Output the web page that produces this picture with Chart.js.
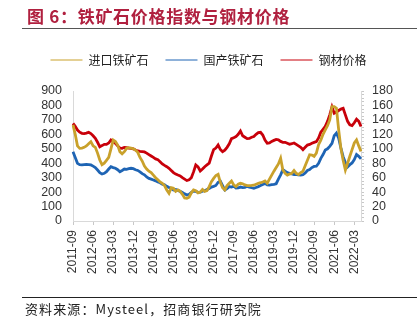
<!DOCTYPE html>
<html>
<head>
<meta charset="utf-8">
<script src="https://cdn.jsdelivr.net/npm/chart.js@4.4.1/dist/chart.umd.min.js"></script>
<style>
  html, body { margin: 0; padding: 0; background: #fff; width: 417px; height: 323px; overflow: hidden; }
  #wrap { position: relative; width: 417px; height: 323px; }
  #chart { position: absolute; left: 0; top: 0; }
  .title { position: absolute; left: 27px; top: 3px; font: bold 17px "Noto Sans CJK SC", sans-serif; color: #b0203f; white-space: nowrap; letter-spacing: 0.7px; }
  .rule { position: absolute; left: 22px; right: 0; height: 0; }
  .rule.top { top: 28px; border-top: 1.5px solid #555; }
  .rule.bottom { top: 297px; border-top: 1px solid #222; }
  .source { position: absolute; left: 25px; top: 299px; font: 13px "Noto Sans CJK SC", sans-serif; color: #222; white-space: nowrap; letter-spacing: 1.1px; }
</style>
</head>
<body>
<div id="wrap">
  <canvas id="chart" width="417" height="323"></canvas>
  <div class="title">图 6：铁矿石价格指数与钢材价格</div>
  <div class="rule top"></div>
  <div class="rule bottom"></div>
  <div class="source">资料来源：Mysteel，招商银行研究院</div>
</div>
<script>
// Monthly categories, 2011-09 through 2022-06
const months = [];
for (let i = 0; i < 130; i++) {
  const y = 2011 + Math.floor((8 + i) / 12);
  const mo = (8 + i) % 12 + 1;
  months.push(y + '-' + String(mo).padStart(2, '0'));
}

// Imported iron ore price index (left axis)
const importedOre = [
  665,600,520,503,505,510,520,535,549,520,
  510,470,422,390,400,420,440,500,561,550,
  526,480,465,480,503,507,505,500,491,475,
  440,415,380,360,345,335,318,300,285,270,
  261,245,215,192,230,226,205,215,205,185,
  160,157,165,195,215,210,195,200,218,205,
  210,238,272,295,315,323,268,230,215,245,
  261,277,250,238,255,261,258,250,245,245,
  246,248,255,261,265,270,277,262,290,318,
  345,370,395,434,353,330,318,325,330,350,
  330,321,335,344,383,420,459,457,448,470,
  528,560,600,631,660,700,792,792,780,631,
  503,420,353,400,448,494,540,561,520,482
];

// Domestic iron ore price index (left axis)
const domesticOre = [
  480,440,399,390,388,390,392,391,388,380,
  370,353,335,325,330,341,360,376,370,365,
  355,341,350,360,358,362,365,362,355,350,
  340,328,320,305,295,290,284,278,270,265,
  255,250,240,232,225,215,218,212,205,198,
  188,180,185,198,207,205,198,200,207,210,
  218,225,235,240,246,268,276,245,215,225,
  238,235,241,228,230,235,231,233,240,235,
  230,226,232,238,245,253,260,250,249,252,
  253,258,290,320,356,345,335,330,326,322,
  321,320,318,320,333,350,356,370,378,379,
  400,434,460,491,500,517,538,590,608,574,
  505,445,405,374,390,402,425,460,448,430
];

// Steel price index (right axis)
const steelPrice = [
  135.2,131,126,123,121.4,121,121.6,122.8,121,118,
  114.4,109,102.8,104.4,106.2,106,108,112.2,110,107.6,
  104,101,100.6,102,101.6,101,100.6,100,98.4,97,
  96.4,96,95.6,94,92,90,88,86,85,82,
  79,77,75.2,73,70,67,65,63.6,62.4,60,
  58,56,57,60,68,77.6,75,69.2,72,75.2,
  77.6,80,90,98.8,101,105.2,99,96,98,102,
  107,114,115.4,116.8,120,124.6,118,116,114,114.4,
  116,117,120,122.4,122.8,119,112,107.6,108,110.2,
  111.6,113,112.4,110.2,109,109,107.6,106.2,107,108,
  106,104,102,98.8,102,105.2,106,107.6,108.8,109.8,
  115,123,127,131,138,147,158,149.2,151,153,
  155,156,147,138,133.2,132,136,141,138,130.8
];

const seriesNames = ['进口铁矿石', '国产铁矿石', '钢材价格'];
const leftTicks = { min: 0, max: 900, step: 100 };
const rightTicks = { min: 0, max: 180, step: 5, labelEvery: 20 };

const tickFont = { family: 'Liberation Sans, Arial, sans-serif', size: 12.5 };

new Chart(document.getElementById('chart'), {
  type: 'line',
  data: {
    labels: months,
    datasets: [
      { label: seriesNames[0], data: importedOre, yAxisID: 'yL', borderColor: '#c9a12b', backgroundColor: '#c9a12b', order: 0 },
      { label: seriesNames[1], data: domesticOre, yAxisID: 'yL', borderColor: '#1e64b4', backgroundColor: '#1e64b4', order: 1 },
      { label: seriesNames[2], data: steelPrice, yAxisID: 'yR', borderColor: '#c8000a', backgroundColor: '#c8000a', order: 2 }
    ]
  },
  options: {
    responsive: false,
    animation: false,
    elements: {
      line: { borderWidth: 2.8, tension: 0 },
      point: { radius: 0, hoverRadius: 0 }
    },
    layout: { padding: { top: 37, left: 0, right: 0, bottom: 0 } },
    plugins: {
      tooltip: { enabled: false },
      legend: {
        position: 'top',
        labels: {
          usePointStyle: true,
          pointStyle: 'line',
          pointStyleWidth: 32,
          padding: 17,
          color: '#222',
          font: { family: 'Noto Sans CJK SC, sans-serif', size: 12 },
          sort: (a, b) => a.datasetIndex - b.datasetIndex
        }
      },
      subtitle: {
        display: true,
        text: '',
        position: 'top',
        weight: 500,
        font: { size: 15, lineHeight: 1 },
        padding: 0
      }
    },
    scales: {
      x: {
        type: 'category',
        offset: false,
        border: { color: '#d9d9d9', width: 1 },
        grid: {
          display: true,
          drawOnChartArea: false,
          tickLength: 4,
          tickColor: (ctx) => (ctx.index % 9 === 0 ? '#c8c8c8' : 'rgba(0,0,0,0)')
        },
        ticks: {
          autoSkip: false,
          minRotation: 90,
          maxRotation: 90,
          padding: 5,
          color: '#333',
          font: { family: 'Liberation Sans, Arial, sans-serif', size: 12 },
          callback: (v, i) => (i % 9 === 0 ? months[i] : '')
        },
        afterFit: (s) => { s.height = 102; }
      },
      yL: {
        position: 'left',
        min: leftTicks.min,
        max: leftTicks.max,
        border: { color: '#d9d9d9', width: 1 },
        grid: { display: false },
        ticks: { stepSize: leftTicks.step, autoSkip: false, color: '#333', font: tickFont, padding: 3 },
        afterFit: (s) => { s.width = 73; }
      },
      yR: {
        position: 'right',
        min: rightTicks.min,
        max: rightTicks.max,
        border: { color: '#d9d9d9', width: 1 },
        grid: { display: true, drawOnChartArea: false, tickLength: 3, color: '#c8c8c8' },
        ticks: {
          stepSize: rightTicks.step,
          maxTicksLimit: 100,
          autoSkip: false,
          color: '#333',
          font: tickFont,
          padding: 8,
          callback: (v) => (v % rightTicks.labelEvery === 0 ? v : '')
        },
        afterFit: (s) => { s.width = 56; }
      }
    }
  }
});
</script>
</body>
</html>
